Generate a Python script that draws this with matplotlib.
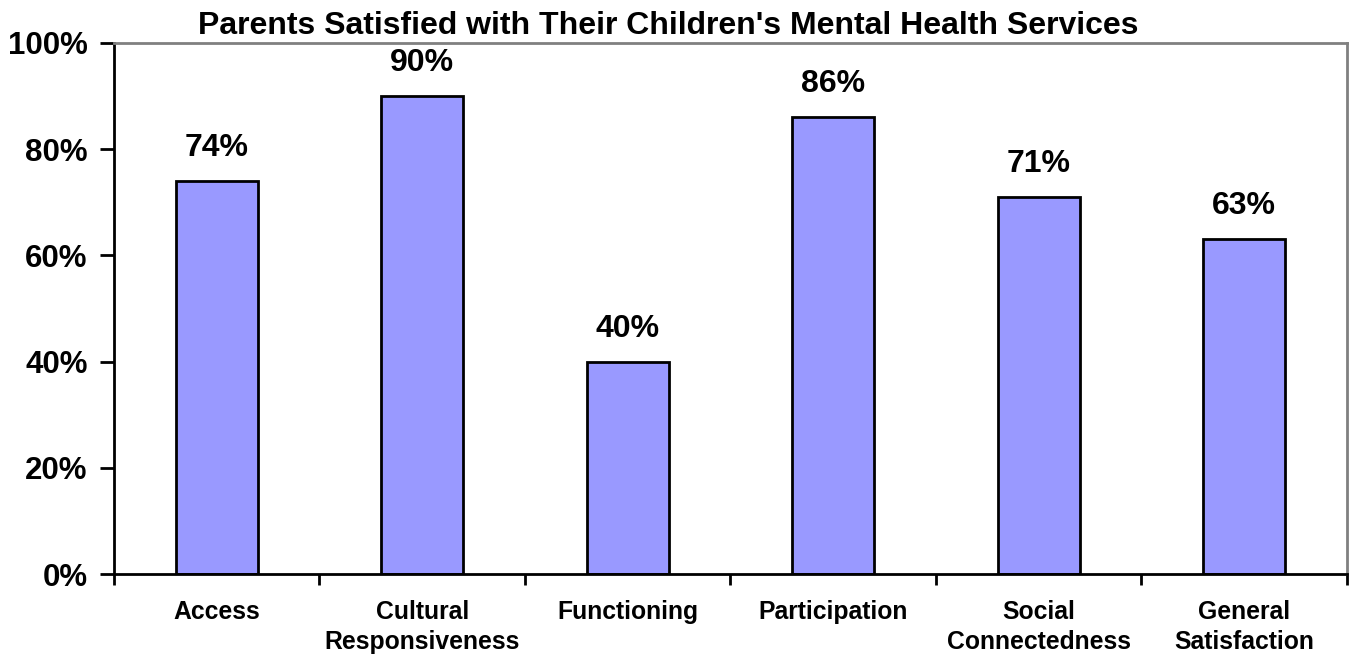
import matplotlib.pyplot as plt
from matplotlib.ticker import PercentFormatter, FixedLocator

categories = ["Access", "Cultural\nResponsiveness", "Functioning", "Participation",
              "Social\nConnectedness", "General\nSatisfaction"]
percent_satisfied = [74, 90, 40, 86, 71, 63]
y_ticks = [0, 20, 40, 60, 80, 100]

plt.rcParams['font.family'] = ['Liberation Sans', 'DejaVu Sans']
plt.rcParams['font.weight'] = 'bold'

fig = plt.figure(figsize=(13.49, 6.57), dpi=100)
ax = fig.add_axes([0.0845, 0.1263, 0.914, 0.8083])

x = range(len(categories))
bars = ax.bar(x, percent_satisfied, width=0.4, color='#9999ff', edgecolor='black', linewidth=2)

# value labels above each bar
for rect, v in zip(bars, percent_satisfied):
    ax.annotate(f"{v}%", (rect.get_x() + rect.get_width() / 2, v),
                xytext=(0, 13), textcoords='offset points',
                ha='center', va='bottom', fontsize=23, fontweight='bold')

ax.set_xlim(-0.5, len(categories) - 0.5)
ax.set_ylim(0, 100)
ax.set_yticks(y_ticks)
ax.yaxis.set_major_formatter(PercentFormatter(decimals=0))
ax.tick_params(axis='y', labelsize=22.5, length=10, width=2, pad=9, direction='out')

# category names sit between the boundary ticks
ax.set_xticks(list(x))
ax.set_xticklabels(categories, fontsize=17.8, fontweight='bold', linespacing=1.3)
ax.tick_params(axis='x', which='major', length=0, pad=19)
ax.xaxis.set_minor_locator(FixedLocator([i - 0.5 for i in range(len(categories) + 1)]))
ax.tick_params(axis='x', which='minor', length=8, width=2, direction='out')

for s in ['left', 'bottom']:
    ax.spines[s].set_linewidth(2)
    ax.spines[s].set_color('black')
for s in ['top', 'right']:
    ax.spines[s].set_linewidth(2)
    ax.spines[s].set_color('#808080')

fig.text(668 / 1349, 1 - 26 / 657, "Parents Satisfied with Their Children's Mental Health Services",
         ha='center', va='center', fontsize=23, fontweight='bold')

plt.savefig("out.png", dpi=100)
